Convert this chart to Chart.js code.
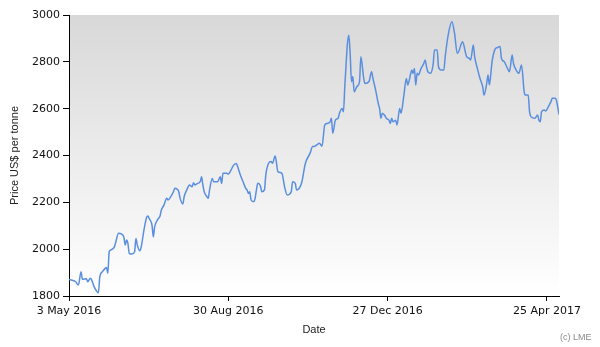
<!DOCTYPE html>
<html>
<head>
<meta charset="utf-8">
<script src="https://cdn.jsdelivr.net/npm/chart.js@4/dist/chart.umd.min.js"></script>
<style>
html,body{margin:0;padding:0;background:#fff;}
#wrap{width:600px;height:347px;position:relative;}
</style>
</head>
<body>
<div id="wrap"><canvas id="c" width="600" height="347"></canvas></div>
<script>
// Days since 3 May 2016
const days = [0,5,7,9,10,13,14,16,17,18,19,21,22,23,25,27,28,29,30,31,34,35,37,39,41,42,43,44,45,47,49,50,51,53,54,56,58,59,60,62,63,64,66,68,69,71,73,74,76,78,79,81,82,83,85,86,88,90,92,93,94,96,98,99,100,101,103,104,105,107,108,111,113,114,115,118,119,121,123,125,126,128,130,132,133,134,135,136,138,139,140,141,143,144,146,147,149,151,152,154,155,156,159,161,163,166,167,169,170,172,174,176,177,180,182,183,185,187,189,191,193,195,196,197,199,201,202,204,205,206,207,208,209,210,211,212,213,215,217,218,220,221,224,226,227,229,231,232,233,234,236,237,239,240,241,242,244,245,247,248,250,252,253,255,256,257,258,259,260,261,263,265,266,267,268,270,272,273,275,276,278,280,281,283,286,288,290,291,294,296,297,299,300,302,303,305,307,309,310,312,313,314,316,318,320,322,323,325,327,329,331,332,334,336,338,340,341,343,344,345,348,350,351,352,353,355,356,358,360,361,363,364,366];
const prices = [1871,1861,1847,1904,1871,1874,1861,1876,1868,1851,1837,1818,1814,1882,1904,1918,1922,1897,1989,1996,2011,2032,2068,2065,2051,2018,2039,2025,1982,1979,1989,2046,2018,1993,2011,2082,2136,2142,2130,2103,2053,2096,2124,2142,2167,2189,2217,2210,2224,2245,2260,2255,2245,2217,2193,2224,2253,2274,2267,2284,2274,2281,2288,2309,2274,2245,2224,2217,2253,2302,2288,2288,2309,2281,2324,2324,2320,2338,2359,2366,2352,2317,2288,2260,2253,2238,2245,2210,2203,2217,2253,2281,2270,2245,2253,2317,2366,2374,2367,2398,2367,2331,2324,2267,2231,2245,2288,2281,2253,2260,2288,2352,2374,2409,2438,2438,2445,2452,2440,2530,2537,2544,2559,2495,2551,2559,2580,2601,2587,2694,2793,2880,2914,2836,2715,2737,2672,2694,2715,2822,2735,2708,2715,2758,2730,2680,2622,2600,2559,2580,2570,2559,2551,2537,2559,2544,2551,2530,2601,2580,2651,2729,2701,2744,2765,2750,2772,2701,2751,2744,2772,2793,2808,2780,2758,2751,2790,2851,2851,2779,2765,2765,2822,2907,2971,2921,2836,2843,2886,2843,2822,2815,2808,2872,2822,2772,2729,2694,2658,2708,2744,2701,2801,2851,2861,2865,2815,2801,2779,2758,2829,2793,2765,2751,2786,2672,2658,2658,2587,2566,2559,2573,2551,2544,2587,2594,2590,2608,2630,2644,2644,2637,2575];
const tickDays = [0,119,238,357];
const tickLabels = ['3 May 2016','30 Aug 2016','27 Dec 2016','25 Apr 2017'];
const yTicks = [1800,2000,2200,2400,2600,2800,3000];

const points = days.map((d,i)=>({x:d,y:prices[i]}));

const bgPlugin = {
  id:'bg',
  beforeDraw(chart){
    const {ctx, chartArea:a} = chart;
    ctx.save();
    ctx.fillStyle='#fff';
    ctx.fillRect(0,0,chart.width,chart.height);
    const g = ctx.createLinearGradient(0,a.top,0,a.bottom);
    g.addColorStop(0,'#d8d8d8');
    g.addColorStop(1,'#ffffff');
    ctx.fillStyle=g;
    ctx.fillRect(a.left,a.top,a.right-a.left,a.bottom-a.top);
    ctx.restore();
  },
  afterDraw(chart){
    const ctx = chart.ctx;
    ctx.save();
    ctx.font = '9px "Liberation Sans", Arial, sans-serif';
    ctx.fillStyle = '#8a8a8a';
    ctx.textAlign = 'left';
    ctx.textBaseline = 'middle';
    ctx.fillText('(c) LME', 560, 338);
    ctx.restore();
  }
};

new Chart(document.getElementById('c'), {
  type:'line',
  data:{datasets:[{
    data:points,
    borderColor:'#5a8fe0',
    borderWidth:1.5,
    pointRadius:0,
    cubicInterpolationMode:'monotone',
    fill:false
  }]},
  options:{
    responsive:false,
    animation:false,
    layout:{padding:{top:15,right:41,left:0,bottom:0}},
    plugins:{legend:{display:false},tooltip:{enabled:false}},
    scales:{
      x:{
        type:'linear',
        min:0,max:366,
        afterFit(s){s.height=51;},
        afterBuildTicks(s){s.ticks = tickDays.map(v=>({value:v}));},
        grid:{display:true,drawOnChartArea:false,drawTicks:true,tickLength:5,color:'#000'},
        border:{display:true,color:'#000',width:1},
        ticks:{
          autoSkip:false,maxRotation:0,padding:4,color:'#111',
          font:{family:'"DejaVu Sans", Verdana, sans-serif',size:11},
          callback:(v)=>{const i=tickDays.indexOf(v);return i>=0?tickLabels[i]:'';}
        },
        title:{display:true,text:'Date',color:'#222',
          font:{family:'"Liberation Sans", Arial, sans-serif',size:11},
          padding:{top:0,bottom:10}}
      },
      y:{
        min:1800,max:3000,
        afterFit(s){s.width=69;},
        afterBuildTicks(s){s.ticks = yTicks.map(v=>({value:v}));},
        grid:{display:true,drawOnChartArea:false,drawTicks:true,tickLength:6,color:'#000'},
        border:{display:true,color:'#000',width:1},
        ticks:{
          padding:3,color:'#111',
          font:{family:'"DejaVu Sans", Verdana, sans-serif',size:11},
          callback:(v)=>String(v)
        },
        title:{display:true,text:'Price US$ per tonne',color:'#222',
          font:{family:'"Liberation Sans", Arial, sans-serif',size:11},
          padding:{top:8,bottom:0}}
      }
    }
  },
  plugins:[bgPlugin]
});
</script>
</body>
</html>
